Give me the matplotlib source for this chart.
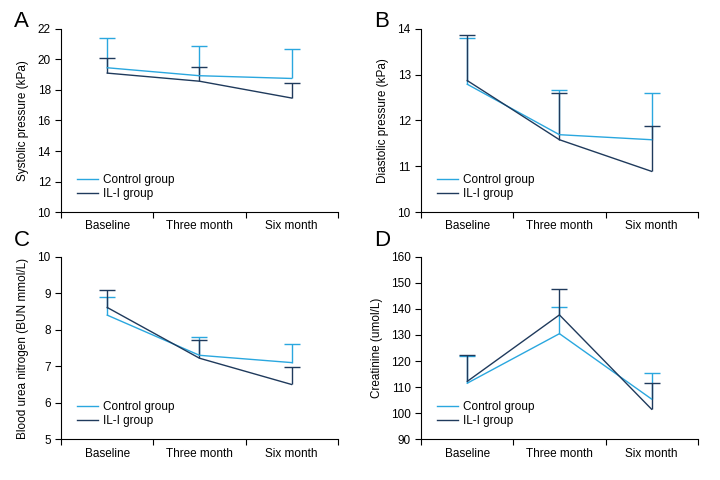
import matplotlib

matplotlib.use("Agg")
import matplotlib.pyplot as plt
import numpy as np

plt.rcParams["font.family"] = ["Liberation Sans", "DejaVu Sans"]

CATEGORIES = ["Baseline", "Three month", "Six month"]
GROUPS = ["Control group", "IL-I group"]
COLORS = ["#2aa7df", "#1f3a5c"]

# panel A - systolic pressure (kPa)
sbp_mean = [[19.45, 18.93, 18.75], [19.1, 18.57, 17.47]]
sbp_upper = [[21.4, 20.86, 20.68], [20.1, 19.48, 18.45]]
# panel B - diastolic pressure (kPa)
dbp_mean = [[12.79, 11.69, 11.58], [12.87, 11.58, 10.89]]
dbp_upper = [[13.79, 12.67, 12.59], [13.87, 12.59, 11.88]]
# panel C - blood urea nitrogen (mmol/L)
bun_mean = [[8.4, 7.3, 7.1], [8.61, 7.22, 6.5]]
bun_upper = [[8.91, 7.79, 7.6], [9.1, 7.72, 6.99]]
# panel D - creatinine (umol/L)
cr_mean = [[111.5, 130.5, 105.4], [112.2, 137.7, 101.5]]
cr_upper = [[121.8, 140.6, 115.4], [122.3, 147.6, 111.6]]

PANELS = [
    ("A", "Systolic pressure (kPa)", sbp_mean, sbp_upper, (10, 22), np.arange(10, 23, 2)),
    ("B", "Diastolic pressure (kPa)", dbp_mean, dbp_upper, (10, 14), np.arange(10, 15, 1)),
    ("C", "Blood urea nitrogen (BUN mmol/L)", bun_mean, bun_upper, (5, 10), np.arange(5, 11, 1)),
    ("D", "Creatinine (umol/L)", cr_mean, cr_upper, (90, 160), np.arange(90, 161, 10)),
]

# axes boxes in figure fractions (left, bottom, width, height) and letter y
BOXES = [
    (0.085, 0.558, 0.384, 0.382),
    (0.585, 0.558, 0.384, 0.382),
    (0.085, 0.085, 0.384, 0.380),
    (0.585, 0.085, 0.384, 0.380),
]
LETTER_Y = [0.956, 0.956, 0.498, 0.498]

FS = 8.5

fig = plt.figure(figsize=(7.2, 4.8), dpi=100)
x = np.arange(len(CATEGORIES))

for (letter, ylabel, means, uppers, ylim, yticks), box, ly in zip(PANELS, BOXES, LETTER_Y):
    ax = fig.add_axes(box)
    handles = []
    for name, color, m, u in zip(GROUPS, COLORS, means, uppers):
        m = np.array(m)
        err = np.array(u) - m
        cont = ax.errorbar(x, m, yerr=[np.zeros_like(err), err], color=color,
                           lw=1.0, elinewidth=1.0, capsize=6, capthick=1.0,
                           label=name)
        cont.lines[1][0].set_visible(False)  # upper cap only
        handles.append(cont.lines[0])
    ax.set_xlim(-0.5, 2.5)
    ax.set_ylim(*ylim)
    ax.set_yticks(yticks)
    ax.set_xticks([-0.5, 0.5, 1.5, 2.5])
    ax.set_xticklabels([])
    ax.set_xticks(x, minor=True)
    ax.set_xticklabels(CATEGORIES, minor=True, fontsize=FS)
    ax.tick_params(axis="x", which="minor", length=0, pad=6)
    ax.tick_params(axis="x", which="major", length=4, direction="out")
    ax.tick_params(axis="y", labelsize=FS, length=4, direction="out")
    for s in ("top", "right"):
        ax.spines[s].set_visible(False)
    ax.set_ylabel(ylabel, fontsize=FS, labelpad=6)
    ax.legend(handles=handles, labels=GROUPS, loc="lower left",
              bbox_to_anchor=(0.04, 0.04), frameon=False, fontsize=FS,
              handlelength=1.8, handletextpad=0.4, labelspacing=0.2,
              borderaxespad=0)
    fig.text(box[0] - 0.066, ly, letter, fontsize=16, ha="left", va="center")

fig.savefig("out.png", dpi=100)
